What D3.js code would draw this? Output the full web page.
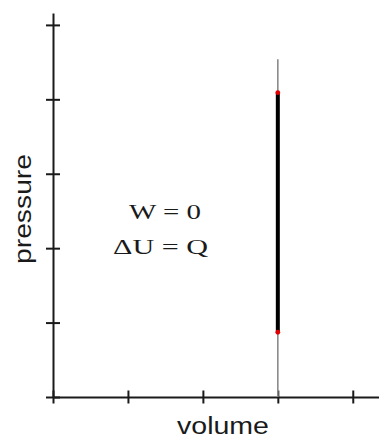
<!DOCTYPE html>
<html>
<head>
<meta charset="utf-8">
<script src="https://cdn.jsdelivr.net/npm/d3@7"></script>
<style>
    body { margin: 0; background: #fff; }
</style>
</head>
<body>
<svg id="chart" width="379" height="439"></svg>
<script>
var xTicks = [0, 1, 2, 3, 4],
    yTicks = [0, 1, 2, 3, 4, 5],
    guideV = [3, 3],
    guideP = [0, 4.54],
    processV = [3, 3],
    processP = [0.87, 4.09],
    notes = ["W = 0", "\u0394U = Q"];

var svg = d3.select("#chart"),
    x = d3.scaleLinear().domain([0, 4.35]).range([53, 379]),
    y = d3.scaleLinear().domain([0, 5.16]).range([397, 13]),
    ink = "#1a1a1a";

// axes
var yAxis = svg.append("g")
    .attr("transform", "translate(" + x(0) + ",0)")
    .call(d3.axisLeft(y).tickValues(yTicks).tickFormat("").tickSizeOuter(0));
yAxis.selectAll("line").attr("x1", -7).attr("x2", 7);

var xAxis = svg.append("g")
    .attr("transform", "translate(0," + y(0) + ")")
    .call(d3.axisBottom(x).tickValues(xTicks).tickFormat("").tickSizeOuter(0));
xAxis.selectAll("line").attr("y1", -6.5).attr("y2", 6.5);

svg.selectAll(".domain, .tick line")
    .attr("stroke", ink)
    .attr("stroke-width", 2);

// thin guide line for the isochoric step
svg.append("line")
    .attr("x1", x(guideV[0])).attr("x2", x(guideV[1]))
    .attr("y1", y(guideP[0])).attr("y2", y(guideP[1]))
    .attr("stroke", "#8a8a8a")
    .attr("stroke-width", 1.6);

// the process itself
svg.append("line")
    .attr("x1", x(processV[0])).attr("x2", x(processV[1]))
    .attr("y1", y(processP[0])).attr("y2", y(processP[1]))
    .attr("stroke", "#000")
    .attr("stroke-width", 4);

svg.selectAll(".end")
    .data(processP)
    .enter()
    .append("circle")
    .attr("class", "end")
    .attr("cx", x(processV[0]))
    .attr("cy", function (p) { return y(p); })
    .attr("r", 2.4)
    .attr("fill", "#e00000");

// axis titles
svg.append("text")
    .attr("x", 177).attr("y", 434)
    .attr("textLength", 92).attr("lengthAdjust", "spacingAndGlyphs")
    .style("font-family", "'Liberation Sans', Arial, sans-serif")
    .style("font-size", "23px")
    .attr("fill", ink)
    .text("volume");

svg.append("text")
    .attr("transform", "translate(31,209) rotate(-90)")
    .attr("text-anchor", "middle")
    .attr("textLength", 110).attr("lengthAdjust", "spacingAndGlyphs")
    .style("font-family", "'Liberation Sans', Arial, sans-serif")
    .style("font-size", "23px")
    .attr("fill", ink)
    .text("pressure");

// W = 0, dU = Q
svg.selectAll(".note")
    .data(notes)
    .enter()
    .append("text")
    .attr("class", "note")
    .attr("x", function (d, i) { return i ? 113 : 129; })
    .attr("y", function (d, i) { return 219 + i * 35; })
    .attr("textLength", function (d, i) { return i ? 95 : 72; })
    .attr("lengthAdjust", "spacingAndGlyphs")
    .style("font-family", "'Liberation Serif', 'Times New Roman', serif")
    .style("font-size", "22px")
    .attr("fill", ink)
    .text(function (d) { return d; });
</script>
</body>
</html>
